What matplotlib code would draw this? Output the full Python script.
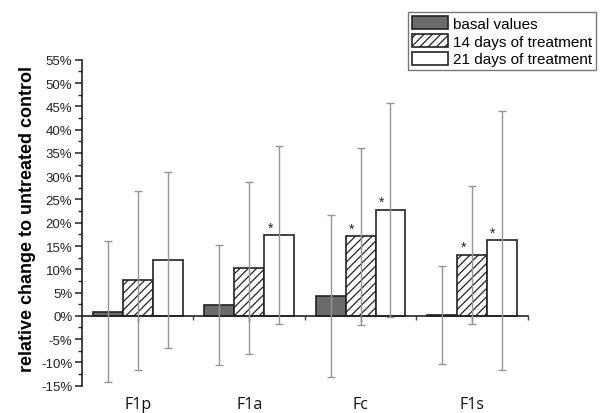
import matplotlib
matplotlib.use("Agg")
import matplotlib.pyplot as plt
import numpy as np
from matplotlib.ticker import MultipleLocator, FuncFormatter

categories = ["F1p", "F1a", "Fc", "F1s"]
series_names = ["basal values", "14 days of treatment", "21 days of treatment"]
basal = [0.9, 2.4, 4.2, 0.2]
basal_err = [15.2, 12.9, 17.4, 10.6]
days14 = [7.6, 10.3, 17.1, 13.1]
days14_err = [19.2, 18.5, 19.0, 14.8]
days21 = [12.0, 17.3, 22.7, 16.2]
days21_err = [19.0, 19.1, 23.0, 27.8]
stars14 = [False, False, True, True]
stars21 = [False, True, True, True]

plt.rcParams['font.family'] = ['Liberation Sans', 'DejaVu Sans']
plt.rcParams['hatch.color'] = '#8a8a8a'
plt.rcParams['hatch.linewidth'] = 0.9

fig = plt.figure(figsize=(6.04, 4.14), dpi=100)
ax = fig.add_axes([0.1358, 0.066, 0.738, 0.787])

x = np.arange(len(categories)) + 0.5
w = 0.268
ekw = dict(ecolor='#959595', elinewidth=1.0, capsize=3, capthick=1.0)

ax.bar(x - w, basal, w, color='#6b6b6b', edgecolor='#222222', linewidth=1.2,
       label=series_names[0], zorder=2)
ax.bar(x, days14, w, color='white', edgecolor='#222222', linewidth=1.2,
       hatch='////', label=series_names[1], zorder=2)
ax.bar(x + w, days21, w, color='white', edgecolor='#222222', linewidth=1.2,
       label=series_names[2], zorder=2)
ax.errorbar(x - w, basal, yerr=basal_err, fmt='none', zorder=3, **ekw)
ax.errorbar(x, days14, yerr=days14_err, fmt='none', zorder=3, **ekw)
ax.errorbar(x + w, days21, yerr=days21_err, fmt='none', zorder=3, **ekw)

for xi, v, s in zip(x, days14, stars14):
    if s:
        ax.text(xi - w * 0.3, v + 0.2, '*', ha='center', va='bottom', fontsize=10, color='#222222')
for xi, v, s in zip(x + w, days21, stars21):
    if s:
        ax.text(xi - w * 0.3, v + 0.2, '*', ha='center', va='bottom', fontsize=10, color='#222222')

ax.set_xlim(0, 4)
ax.set_ylim(-15, 55)
ax.spines['top'].set_visible(False)
ax.spines['right'].set_visible(False)
ax.spines['bottom'].set_position(('data', 0))
ax.spines['bottom'].set_linewidth(1.2)
ax.spines['left'].set_linewidth(1.2)
ax.spines['bottom'].set_color('#222222')
ax.spines['left'].set_color('#222222')

ax.yaxis.set_major_locator(MultipleLocator(5))
ax.yaxis.set_minor_locator(MultipleLocator(2.5))
ax.yaxis.set_major_formatter(FuncFormatter(lambda v, p: f"{int(round(v))}%"))
ax.tick_params(axis='y', which='major', length=5, width=1.1, labelsize=9.5, colors='#222222', pad=2)
ax.tick_params(axis='y', which='minor', length=3, width=1.0, colors='#222222')

ax.set_xticks(x)
ax.set_xticks(np.arange(1, 5), minor=True)
ax.set_xticklabels([])
ax.tick_params(axis='x', which='major', length=4, width=1.0, direction='out', colors='#444444')
ax.tick_params(axis='x', which='minor', length=3, width=1.0, direction='out', colors='#444444')
for xi, c in zip(x, categories):
    ax.text(xi, -0.055, c, transform=ax.get_xaxis_transform(), ha='center', va='center',
            fontsize=11.5, family=['Open Sans', 'DejaVu Sans'], color='#111111')

ax.set_ylabel('relative change to untreated control', fontsize=13, fontweight='bold')
ax.yaxis.set_label_coords(-0.103, 0.515)

leg = ax.legend(loc='upper left', bbox_to_anchor=(0.731, 1.147), fontsize=11.0, frameon=True,
                fancybox=False, edgecolor='#555555', handlelength=2.4, handleheight=0.95,
                handletextpad=0.3, borderpad=0.25, labelspacing=0.2, borderaxespad=0)
leg.get_frame().set_linewidth(1.0)

fig.savefig('out.png', dpi=100)
